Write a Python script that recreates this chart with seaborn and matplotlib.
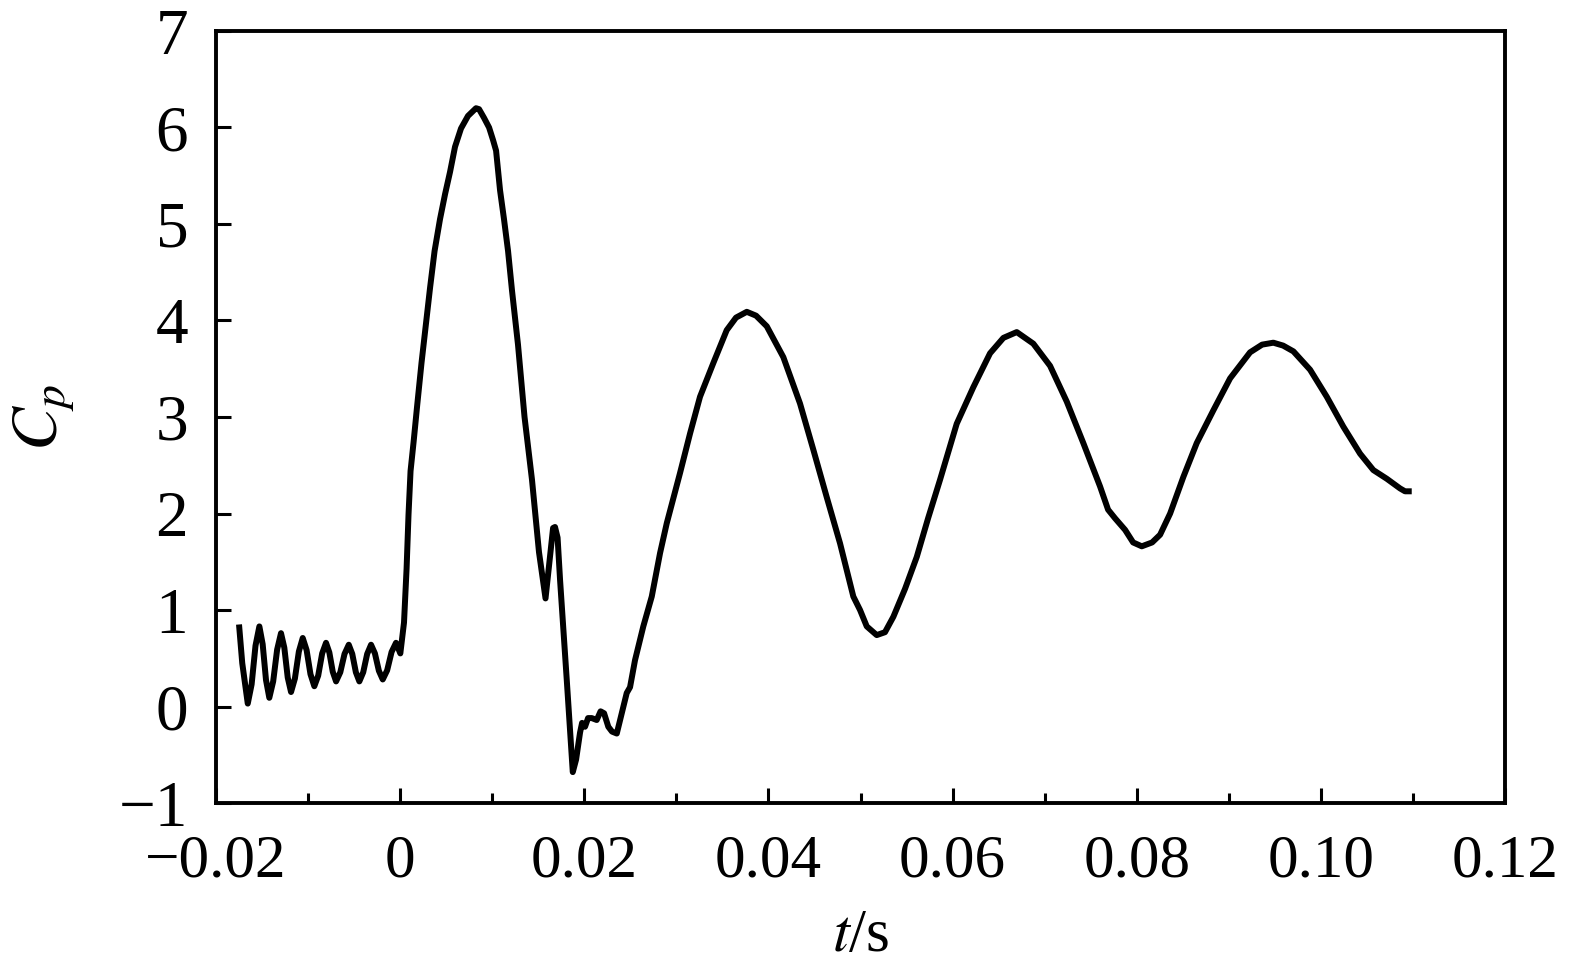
import numpy as np
import pandas as pd
import matplotlib
matplotlib.use("Agg")
import matplotlib.pyplot as plt
import seaborn as sns
from matplotlib.ticker import MultipleLocator, FixedLocator

# ---------------- data ----------------
t_pre = [-0.01750, -0.01715, -0.01655, -0.01613, -0.01571, -0.01529, -0.01493, -0.01457,
         -0.01421, -0.01379, -0.01336, -0.01294, -0.01258, -0.01221, -0.01185, -0.01143,
         -0.01100, -0.01058, -0.01016, -0.00974, -0.00932, -0.00890, -0.00847, -0.00805,
         -0.00769, -0.00732, -0.00696, -0.00650, -0.00604, -0.00558, -0.00520, -0.00481,
         -0.00443, -0.00401, -0.00358, -0.00316, -0.00274, -0.00231, -0.00189, -0.00141,
         -0.00093, -0.00045]
cp_pre = [0.85, 0.45, 0.03, 0.23, 0.63, 0.83, 0.645, 0.275,
          0.09, 0.26, 0.59, 0.76, 0.61, 0.30, 0.15, 0.29,
          0.57, 0.71, 0.585, 0.335, 0.21, 0.32, 0.55, 0.66,
          0.56, 0.36, 0.26, 0.355, 0.545, 0.64, 0.545, 0.355,
          0.26, 0.355, 0.545, 0.64, 0.55, 0.37, 0.28, 0.375,
          0.565, 0.66]

t_impact = [0.00002, 0.00042, 0.00070, 0.00091, 0.00113, 0.00146, 0.00184, 0.00232,
            0.00281, 0.00325, 0.00374, 0.00433, 0.00488, 0.00542, 0.00596, 0.00661,
            0.00737, 0.00824, 0.00857, 0.00911, 0.00966, 0.01009, 0.01042, 0.01085,
            0.01128, 0.01172, 0.01215, 0.01280, 0.01351, 0.01432, 0.01508, 0.01579,
            0.01628, 0.01661, 0.01682, 0.01710, 0.01737, 0.01810, 0.01875, 0.01911,
            0.01954, 0.01976, 0.02008, 0.02041, 0.02081, 0.02135, 0.02177, 0.02215,
            0.02261, 0.02301, 0.02353, 0.02399, 0.02461, 0.02497, 0.02551, 0.02641,
            0.02733, 0.02823, 0.02896]
cp_impact = [0.55, 0.87, 1.43, 1.99, 2.44, 2.74, 3.11, 3.56,
             3.97, 4.34, 4.72, 5.05, 5.31, 5.54, 5.80, 5.99,
             6.12, 6.20, 6.19, 6.10, 6.00, 5.87, 5.76, 5.35,
             5.05, 4.72, 4.31, 3.75, 3.00, 2.35, 1.60, 1.12,
             1.55, 1.85, 1.86, 1.75, 1.31, 0.27, -0.68, -0.55,
             -0.27, -0.17, -0.21, -0.12, -0.12, -0.14, -0.05, -0.07,
             -0.21, -0.26, -0.28, -0.10, 0.14, 0.20, 0.48, 0.83,
             1.14, 1.59, 1.90]

t_post = [0.03040, 0.03149, 0.03257, 0.03402, 0.03547, 0.03648, 0.03765, 0.03866,
          0.03982, 0.04162, 0.04343, 0.04488, 0.04633, 0.04778, 0.04922, 0.04995,
          0.05068, 0.05176, 0.05266, 0.05357, 0.05484, 0.05611, 0.05734, 0.05864,
          0.06045, 0.06226, 0.06407, 0.06552, 0.06697, 0.06877, 0.07059, 0.07240,
          0.07420, 0.07602, 0.07689, 0.07765, 0.07874, 0.07961, 0.08055, 0.08167,
          0.08254, 0.08363, 0.08507, 0.08652, 0.08833, 0.09014, 0.09231, 0.09362,
          0.09484, 0.09590, 0.09702, 0.09883, 0.10064, 0.10244, 0.10426, 0.10570,
          0.10716, 0.10860, 0.10914, 0.10987]
cp_post = [2.42, 2.83, 3.21, 3.56, 3.90, 4.03, 4.09, 4.05,
           3.94, 3.62, 3.14, 2.66, 2.17, 1.69, 1.14, 1.00,
           0.83, 0.74, 0.77, 0.93, 1.22, 1.55, 1.95, 2.35,
           2.93, 3.31, 3.66, 3.82, 3.88, 3.76, 3.53, 3.16,
           2.73, 2.28, 2.04, 1.95, 1.83, 1.70, 1.66, 1.70,
           1.78, 2.00, 2.38, 2.73, 3.07, 3.40, 3.67, 3.75,
           3.77, 3.74, 3.68, 3.49, 3.21, 2.90, 2.62, 2.45,
           2.36, 2.26, 2.23, 2.23]

x_ticks = [-0.02, 0.0, 0.02, 0.04, 0.06, 0.08, 0.10, 0.12]
x_tick_labels = ["\u22120.02", "0", "0.02", "0.04", "0.06", "0.08", "0.10", "0.12"]
y_ticks = [-1, 0, 1, 2, 3, 4, 5, 6, 7]
y_tick_labels = ["\u22121", "0", "1", "2", "3", "4", "5", "6", "7"]

df = pd.DataFrame({"t": t_pre + t_impact + t_post,
                   "Cp": cp_pre + cp_impact + cp_post})

# ---------------- style ----------------
sns.set_theme(style="white")
plt.rcParams["font.family"] = ["Liberation Serif", "DejaVu Serif"]
plt.rcParams["mathtext.fontset"] = "stix"

fig = plt.figure(figsize=(15.73, 9.76), dpi=100)
ax = fig.add_axes([216/1573, 1 - 803/976, (1505-216)/1573, (803-31)/976])

sns.lineplot(data=df, x="t", y="Cp", sort=False, estimator=None, ax=ax,
             color="black", linewidth=4.3, solid_joinstyle="round",
             solid_capstyle="butt")

ax.set_xlim(-0.02, 0.12)
ax.set_ylim(-1, 7)
ax.xaxis.set_major_locator(FixedLocator(x_ticks))
ax.set_xticklabels(x_tick_labels)
ax.xaxis.set_minor_locator(MultipleLocator(0.01))
ax.yaxis.set_major_locator(FixedLocator(y_ticks))
ax.set_yticklabels(y_tick_labels)

for s in ax.spines.values():
    s.set_color("black")
    s.set_linewidth(2.8)
    s.set_visible(True)

ax.tick_params(axis="both", which="major", direction="in", length=11, width=2.2,
               color="black", labelcolor="black")
ax.tick_params(axis="x", which="major", labelsize=44, pad=22, bottom=True, top=False)
ax.tick_params(axis="y", which="major", labelsize=47, pad=20, left=True, right=False)
ax.tick_params(axis="x", which="minor", direction="in", length=7, width=2.2,
               bottom=True, top=False, color="black")

ax.set_xlabel(r"$t$/s", fontsize=44, labelpad=14, color="black")
ax.set_ylabel(r"$C_p$", fontsize=47, labelpad=30, color="black")

fig.savefig("out.png", dpi=100, facecolor="white")
